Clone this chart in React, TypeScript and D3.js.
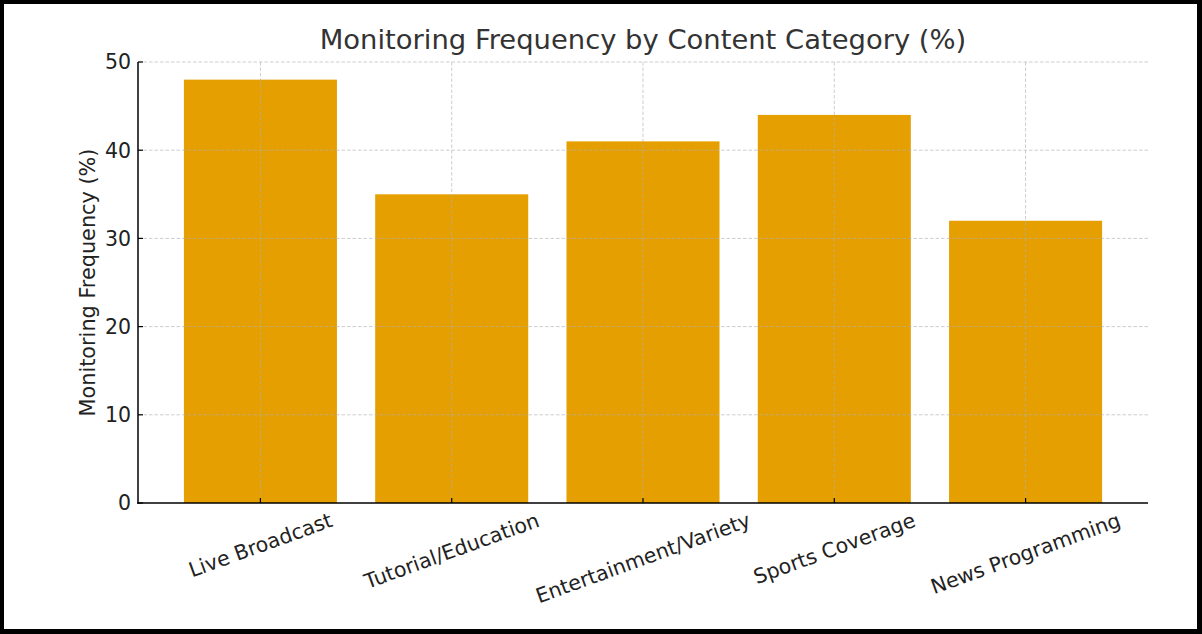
import React, { useEffect, useRef } from "react";
import * as d3 from "d3";

const categories: string[] = [
  "Live Broadcast",
  "Tutorial/Education",
  "Entertainment/Variety",
  "Sports Coverage",
  "News Programming",
];
const values: number[] = [48, 35, 41, 44, 32];
const yTicks: number[] = [0, 10, 20, 30, 40, 50];
const title = "Monitoring Frequency by Content Category (%)";
const yLabel = "Monitoring Frequency (%)";

const W = 1202;
const H = 634;
const FONT = "'DejaVu Sans', sans-serif";

export default function App() {
  const ref = useRef<SVGSVGElement | null>(null);

  useEffect(() => {
    const svg = d3.select(ref.current);
    svg.selectAll("*").remove();

    const left = 138;
    const right = 1148;
    const top = 62;
    const bottom = 503;

    const x = d3
      .scaleBand<string>()
      .domain(categories)
      .range([left, right])
      .paddingInner(0.2)
      .paddingOuter(0.24);
    const y = d3.scaleLinear().domain([0, 50]).range([bottom, top]);

    // background + border
    svg.append("rect").attr("x", 0).attr("y", 0).attr("width", W).attr("height", H).attr("fill", "#000");
    svg.append("rect").attr("x", 4).attr("y", 4).attr("width", W - 9).attr("height", H - 9).attr("fill", "#fff");

    // bars
    svg
      .append("g")
      .selectAll("rect")
      .data(categories)
      .join("rect")
      .attr("x", (d) => x(d)!)
      .attr("y", (d, i) => y(values[i]))
      .attr("width", x.bandwidth())
      .attr("height", (d, i) => y(0) - y(values[i]))
      .attr("fill", "#E69F00");

    // grid
    const grid = svg.append("g").attr("stroke", "#b0b0b0").attr("stroke-opacity", 0.7).attr("stroke-width", 0.9).attr("stroke-dasharray", "3.5,2");
    yTicks.forEach((t) => {
      if (t === 0) return;
      grid.append("line").attr("x1", left).attr("x2", right).attr("y1", y(t)).attr("y2", y(t));
    });
    categories.forEach((c) => {
      const cx = x(c)! + x.bandwidth() / 2;
      grid.append("line").attr("x1", cx).attr("x2", cx).attr("y1", top).attr("y2", bottom);
    });

    // axes lines
    svg.append("line").attr("x1", left).attr("x2", left).attr("y1", top).attr("y2", bottom + 0.75).attr("stroke", "#000").attr("stroke-width", 1.5);
    svg.append("line").attr("x1", left - 0.75).attr("x2", right).attr("y1", bottom).attr("y2", bottom).attr("stroke", "#000").attr("stroke-width", 1.5);

    // y ticks
    const yg = svg.append("g");
    yTicks.forEach((t) => {
      yg.append("line").attr("x1", left).attr("x2", left + 5).attr("y1", y(t)).attr("y2", y(t)).attr("stroke", "#000").attr("stroke-width", 1.2);
      yg.append("text")
        .attr("x", left - 7)
        .attr("y", y(t))
        .attr("dy", "0.36em")
        .attr("text-anchor", "end")
        .attr("font-family", FONT)
        .attr("font-size", 20.5)
        .attr("fill", "#222")
        .text(String(t));
    });

    // x ticks and labels
    const xg = svg.append("g");
    const angle = 20;
    const rad = (angle * Math.PI) / 180;
    const fs = 20.5;
    categories.forEach((c) => {
      const cx = x(c)! + x.bandwidth() / 2;
      xg.append("line").attr("x1", cx).attr("x2", cx).attr("y1", bottom).attr("y2", bottom - 5).attr("stroke", "#000").attr("stroke-width", 1.2);
      const t = xg
        .append("text")
        .attr("text-anchor", "middle")
        .attr("dy", "0.35em")
        .attr("font-family", FONT)
        .attr("font-size", fs)
        .attr("fill", "#222")
        .text(c);
      const w = (t.node() as SVGTextElement).getComputedTextLength();
      const h = fs * 1.16;
      const boxH = w * Math.sin(rad) + h * Math.cos(rad);
      const cy = bottom + 5 + boxH / 2;
      t.attr("transform", `translate(${cx},${cy}) rotate(${-angle})`);
    });

    // y label
    svg
      .append("text")
      .attr("transform", `translate(95,${(top + bottom) / 2}) rotate(-90)`)
      .attr("text-anchor", "middle")
      .attr("font-family", FONT)
      .attr("font-size", 20.8)
      .attr("fill", "#222")
      .text(yLabel);

    // title
    svg
      .append("text")
      .attr("x", (left + right) / 2)
      .attr("y", 49)
      .attr("text-anchor", "middle")
      .attr("font-family", FONT)
      .attr("font-size", 27.4)
      .attr("fill", "#333")
      .text(title);
  }, []);

  return (
    <svg
      ref={ref}
      width={W}
      height={H}
      style={{ position: "absolute", left: 0, top: 0, display: "block" }}
    />
  );
}
